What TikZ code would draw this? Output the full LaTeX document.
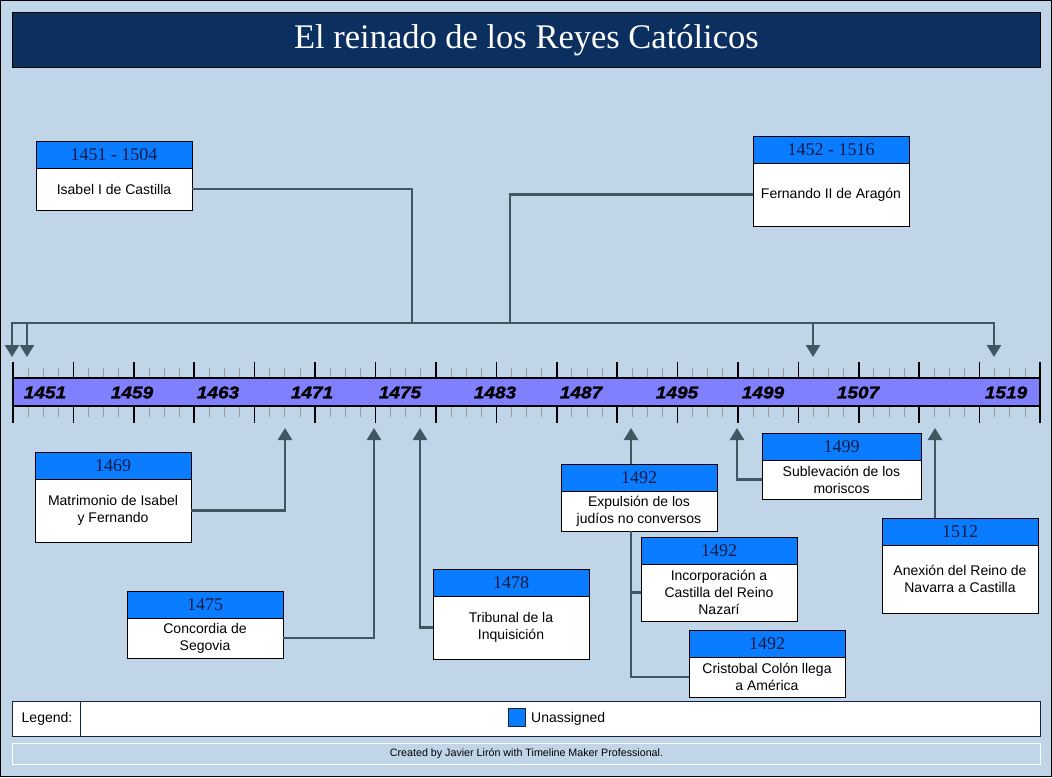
\documentclass[tikz,border=0pt]{standalone}
\usepackage{fontspec}
\setmainfont{Liberation Sans}
\newfontfamily\timesf{Liberation Serif}
\newfontfamily\yearf[FakeStretch=1.12,FakeBold=1.5]{Liberation Sans}
\usetikzlibrary{arrows.meta}
\definecolor{bg}{HTML}{C1D5E9}
\definecolor{navy}{HTML}{0B2F5E}
\definecolor{hblue}{HTML}{0A7CFF}
\definecolor{htext}{HTML}{101A44}
\definecolor{barblue}{HTML}{8080FF}
\definecolor{conncol}{HTML}{3E5762}
\definecolor{legline}{HTML}{13243A}
\tikzset{
  hdr/.style={draw=black, line width=0.8pt, fill=hblue, anchor=north west, inner sep=0pt, outer sep=0pt,
    text=htext, font=\timesf\fontsize{18}{20}\selectfont},
  bodyb/.style={draw=black, line width=0.8pt, fill=white, anchor=north west, inner sep=0pt, outer sep=0pt,
    align=center, font=\fontsize{14}{17}\selectfont},
  conn/.style={draw=conncol, line width=2.4pt},
  arr/.style={conn, -{Triangle[width=14pt,length=12pt]}},
  yearlab/.style={font=\yearf\bfseries\itshape\fontsize{17}{19}\selectfont, inner sep=0pt},
  major/.style={draw=black, line width=1.6pt},
  minor/.style={draw=gray!80, line width=0.8pt}
}
\newcommand{\evbox}[8]{%
  \node[hdr, minimum width=#4, minimum height=#5] (#1h) at (#2,#3) {#7};
  \node[bodyb, minimum width=#4, minimum height=#6] (#1) at (#1h.south west) {#8};
}
\begin{document}
\begin{tikzpicture}[x=1pt,y=-1pt]
\useasboundingbox (0,0) rectangle (1052,777);
\fill[bg] (0,0) rectangle (1052,777);
\draw[black, line width=1pt] (0.5,0.5) rectangle (1051.5,776.5);
% title
\node[draw=black, line width=0.8pt, fill=navy, anchor=north west, minimum width=1028, minimum height=55, inner sep=0pt,
  text=white, font=\timesf\fontsize{34.5}{38}\selectfont] (title) at (12,12) {El reinado de los Reyes Católicos};
% timeline bar
\fill[barblue] (13,378) rectangle (1040,406);
\foreach \i in {0,...,68}{
  \pgfmathsetmacro{\xx}{13+\i*15.10294}
  \pgfmathtruncatemacro{\mm}{mod(\i,4)}
  \ifnum\mm=0
    \draw[major] (\xx,362) -- (\xx,378) (\xx,406) -- (\xx,423);
  \else
    \draw[minor] (\xx,368) -- (\xx,378) (\xx,406) -- (\xx,417);
  \fi
}
\draw[black, line width=2.2pt] (13,378) -- (1040,378) (13,406) -- (1040,406);
\draw[black, line width=2.4pt] (1040,362) -- (1040,423);
\draw[black, line width=2pt] (13,362) -- (13,423);
\foreach \x/\y in {45/1451,132/1459,218/1463,312/1471,400/1475,495/1483,581/1487,677/1495,763/1499,858/1507,1006/1519}
  \node[yearlab] (lab\y) at (\x,392.5) {\y};
% timeline points
\coordinate (a1451) at (12,357);
\coordinate (a1452) at (27,357);
\coordinate (a1504) at (813,357);
\coordinate (a1516) at (994,357);
\coordinate (t1469) at (285,428);
\coordinate (t1475) at (374,428);
\coordinate (t1478) at (420,428);
\coordinate (t1492) at (631,428);
\coordinate (t1499) at (737,428);
\coordinate (t1512) at (935,428);
\coordinate (jI) at (412,323);
\coordinate (jF) at (510,323);
% boxes above
\evbox{isabel}{36}{141}{156}{27}{42}{1451 - 1504}{Isabel I de Castilla}
\evbox{fernando}{753}{136}{156}{27}{63}{1452 - 1516}{Fernando II de Aragón}
% boxes below
\evbox{e1469}{35}{452}{156}{27}{63}{1469}{Matrimonio de Isabel\\y Fernando}
\evbox{e1475}{127}{591}{156}{27}{40}{1475}{Concordia de\\Segovia}
\evbox{e1478}{433}{569}{156}{27}{63}{1478}{Tribunal de la\\Inquisición}
\evbox{e1492a}{561}{464}{156}{27}{40}{1492}{Expulsión de los\\judíos no conversos}
\evbox{e1492b}{641}{537}{156}{27}{57}{1492}{Incorporación a\\Castilla del Reino\\Nazarí}
\evbox{e1492c}{689}{630}{156}{27}{40}{1492}{Cristobal Colón llega\\a América}
\evbox{e1499}{762}{433}{159}{27}{39}{1499}{Sublevación de los\\moriscos}
\evbox{e1512}{882}{518}{156}{27}{68}{1512}{Anexión del Reino de\\Navarra a Castilla}
% connectors above
\draw[conn] (isabel.east) -| (jI);
\draw[arr] (jI) -| (a1451);
\draw[arr] (jI) -| (a1504);
\draw[conn] (fernando.west) -| (jF);
\draw[arr] (jF) -| (a1452);
\draw[arr] (jF) -| (a1516);
% connectors below
\draw[arr] (e1469.east) -| (t1469);
\draw[arr] (e1475.east) -| (t1475);
\draw[arr] (e1478.west) -| (t1478);
\draw[arr] (e1492ah.north -| t1492) -- (t1492);
\draw[conn] (e1492a.south -| t1492) |- (e1492b.west);
\draw[conn] (e1492a.south -| t1492) |- (e1492c.west);
\draw[arr] (e1499.west) -| (t1499);
\draw[arr] (e1512h.north -| t1512) -- (t1512);
% legend
\node[draw=legline, line width=1pt, fill=white, anchor=north west, minimum width=1028, minimum height=35, inner sep=0pt] (legend) at (12,701) {};
\draw[legline, line width=1pt] (80,701) -- (80,736);
\node[font=\fontsize{14}{17}\selectfont, inner sep=0pt] (legtxt) at (47,718.5) {Legend:};
\node[draw=legline, line width=0.8pt, fill=hblue, minimum width=17, minimum height=18, inner sep=0pt] (legsq) at (516.5,717) {};
\node[font=\fontsize{14}{17}\selectfont, inner sep=0pt, anchor=west] (legun) at (531,718.5) {Unassigned};
% footer
\node[draw=white, line width=1pt, anchor=north west, minimum width=1028, minimum height=21, inner sep=0pt,
  font=\fontsize{10.7}{12}\selectfont] (footer) at (12,743) {Created by Javier Lirón with Timeline Maker Professional.};
\end{tikzpicture}
\end{document}
